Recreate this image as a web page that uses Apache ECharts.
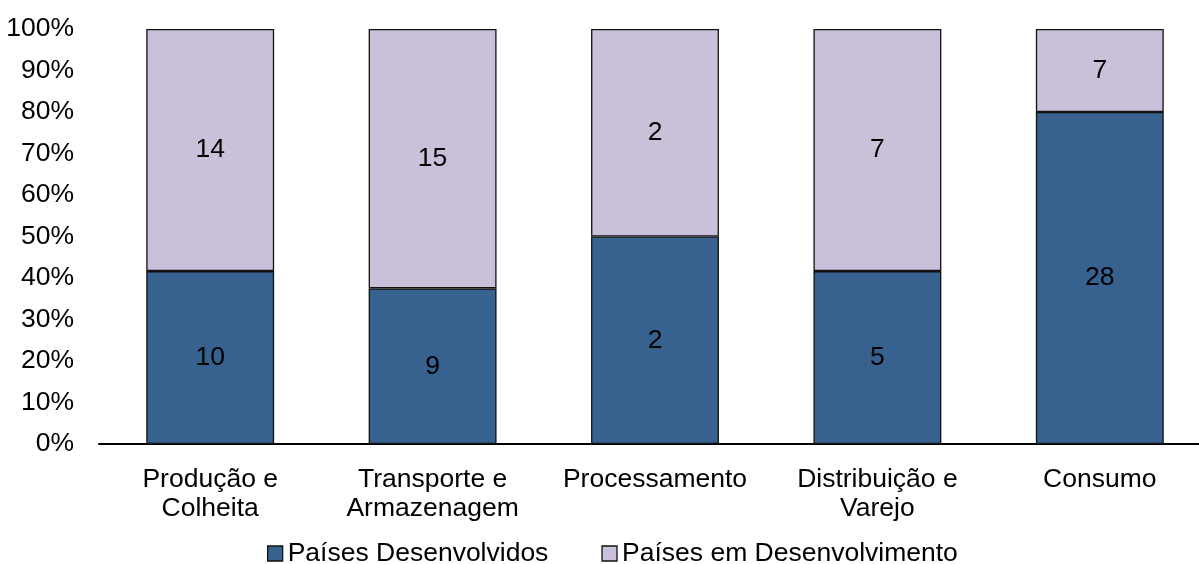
<!DOCTYPE html>
<html>
<head>
<meta charset="utf-8">
<script src="https://cdn.jsdelivr.net/npm/echarts@6/dist/echarts.min.js"></script>
<style>
  html, body { margin: 0; padding: 0; background: #fff; }
  #chart { width: 1199px; height: 564px; }
</style>
</head>
<body>
<div id="chart"></div>
<script>
  const categories = ['Produção e\nColheita', 'Transporte e\nArmazenagem', 'Processamento', 'Distribuição e\nVarejo', 'Consumo'];
  const desenvolvidos = [10, 9, 2, 5, 28];
  const emDesenvolvimento = [14, 15, 2, 7, 7];
  const yTicks = [0, 10, 20, 30, 40, 50, 60, 70, 80, 90, 100];

  const totals = desenvolvidos.map((v, i) => v + emDesenvolvimento[i]);
  const pct = (arr) => arr.map((v, i) => ({ value: v / totals[i] * 100, raw: v }));

  const font = 'Liberation Sans, Arial, sans-serif';
  const fs = 26.5;

  const chart = echarts.init(document.getElementById('chart'));

  const barStyle = (color) => ({
    color: color,
    borderColor: '#111',
    borderWidth: 1.3
  });

  const label = {
    show: true,
    position: 'inside',
    color: '#000',
    fontSize: fs,
    fontFamily: font,
    padding: [10, 0, 0, 0],
    formatter: p => p.data.raw
  };

  chart.setOption({
    animation: false,
    grid: { left: 99, top: 29, width: 1112, height: 415, outerBoundsMode: 'none', containLabel: false },
    xAxis: {
      type: 'category',
      data: categories,
      axisLine: { lineStyle: { color: '#000', width: 2 } },
      axisTick: { show: false },
      axisLabel: { color: '#000', fontSize: fs, fontFamily: font, margin: 21, lineHeight: 29, interval: 0 }
    },
    yAxis: {
      type: 'value',
      min: yTicks[0],
      max: yTicks[yTicks.length - 1],
      interval: 10,
      axisLine: { show: false },
      axisTick: { show: false },
      splitLine: { show: false },
      axisLabel: { color: '#000', fontSize: fs, fontFamily: font, margin: 25, formatter: v => v + '%' }
    },
    legend: {
      top: 540,
      left: 267,
      padding: 0,
      icon: 'rect',
      itemWidth: 15,
      itemHeight: 15,
      itemGap: 53,
      itemStyle: { borderColor: '#111', borderWidth: 1.3 },
      textStyle: { color: '#000', fontSize: fs, fontFamily: font },
      data: ['Países Desenvolvidos', 'Países em Desenvolvimento']
    },
    series: [
      {
        name: 'Países Desenvolvidos',
        type: 'bar',
        stack: 'total',
        barCategoryGap: '42.5%',
        data: pct(desenvolvidos),
        itemStyle: barStyle('#37618F'),
        label: label
      },
      {
        name: 'Países em Desenvolvimento',
        type: 'bar',
        stack: 'total',
        barCategoryGap: '42.5%',
        data: pct(emDesenvolvimento),
        itemStyle: barStyle('#CAC0DA'),
        label: label
      }
    ]
  });
</script>
</body>
</html>
